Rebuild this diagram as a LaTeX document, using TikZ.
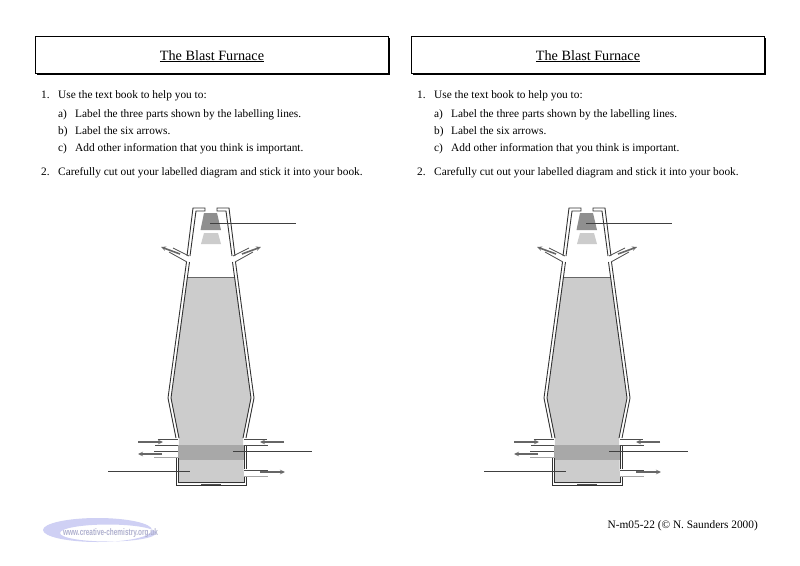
\documentclass[tikz,border=0pt]{standalone}
\usepackage{fontspec}
\setmainfont{Liberation Serif}
\newfontfamily\logofont{Liberation Sans}
\usepackage{xcolor}
\usetikzlibrary{arrows.meta}
\definecolor{chargegrey}{HTML}{CCCCCC}
\definecolor{bandgrey}{HTML}{A8A8A8}
\definecolor{bellgrey}{HTML}{8F8F8F}
\definecolor{flowgrey}{HTML}{666666}
\definecolor{logoblue}{HTML}{CFD0F4}
\tikzset{
  bodytext/.style={anchor=base west,inner sep=0pt,font=\fontsize{11.35}{14}\selectfont},
  wallline/.style={line width=0.9pt,draw=black!80},
  pipeline/.style={line width=0.8pt,draw=black!70},
  flowarrow/.style={-{Stealth[length=5pt,width=4.5pt,fill=white]},line width=1.6pt,draw=flowgrey},
  labelline/.style={line width=0.9pt,draw=black!75}
}
\begin{document}
\begin{tikzpicture}[x=1pt,y=-1pt]
  \useasboundingbox (0,0) rectangle (800,565);
  \fill[white] (0,0) rectangle (800,565);
  \foreach \dx in {0,376}{
  \begin{scope}[xshift=\dx pt]
    % title box
    \fill[black] (37,38) rectangle (390,75);
    \draw[fill=white,line width=0.8pt] (35,36) rectangle (388,73);
    \node[anchor=base,inner sep=0pt,font=\fontsize{14.2}{16}\selectfont] (title\dx) at (212,60) {\underline{The Blast Furnace}};
    % instructions
    \node[bodytext] (one\dx) at (41,98) {1.};
    \node[bodytext] (use\dx) at (58,98) {Use the text book to help you to:};
    \node[bodytext] (a\dx) at (58,117) {a)};
    \node[bodytext] (parts\dx) at (75,117) {Label the three parts shown by the labelling lines.};
    \node[bodytext] (b\dx) at (58,134) {b)};
    \node[bodytext] (arrows\dx) at (75,134) {Label the six arrows.};
    \node[bodytext] (c\dx) at (58,151) {c)};
    \node[bodytext] (other\dx) at (75,151) {Add other information that you think is important.};
    \node[bodytext] (two\dx) at (41,175) {2.};
    \node[bodytext] (cut\dx) at (58,175) {Carefully cut out your labelled diagram and stick it into your book.};
    % charge and hot zone
    \fill[chargegrey] (187,277) -- (235,277) -- (251,398) -- (243,438) -- (244,483) -- (178,483) -- (179,438) -- (171,398) -- cycle;
    \fill[bandgrey] (178,445) rectangle (244,460);
    \draw[line width=0.8pt,draw=black!60] (187,277) -- (235,277);
    % bell
    \fill[bellgrey] (204,213) -- (217,213) -- (221,230) -- (200.5,230) -- cycle;
    \fill[chargegrey] (204,233) -- (218,233) -- (221,244) -- (201,244) -- cycle;
    % outer and inner walls
    \draw[wallline] (190,256) -- (196,211) -- (205,211) -- (205,208) -- (193,208) -- (187,256);
    \draw[wallline] (232,256) -- (226,211) -- (217,211) -- (217,208) -- (229,208) -- (235,256);
    \draw[wallline] (186.5,262) -- (168,398) -- (176,438);
    \draw[wallline] (189.5,262) -- (171,398) -- (179,438);
    \draw[wallline] (235.5,262) -- (254,398) -- (246,438);
    \draw[wallline] (232.5,262) -- (251,398) -- (243,438);
    \draw[wallline] (176,458) -- (176,485) -- (246.5,485) -- (246.5,477);
    \draw[wallline] (178.5,458) -- (178.5,482.5) -- (244.5,482.5) -- (244.5,477);
    \draw[wallline] (246.5,469) -- (246.5,446);
    \draw[wallline] (244.5,469) -- (244.5,446);
    \draw[line width=1.4pt,draw=black!70] (201,484.5) -- (221,484.5);
    % upper vents
    \draw[pipeline] (173,248) -- (189,256);
    \draw[pipeline] (169,252) -- (187,262);
    \draw[pipeline] (249,248) -- (233,256);
    \draw[pipeline] (253,252) -- (235,262);
    \draw[flowarrow] (180,254) -- (161,247);
    \draw[flowarrow] (242,254) -- (261,247);
    % lower pipes
    \draw[pipeline] (158,439) -- (178,439);
    \draw[pipeline] (155,445) -- (178,445);
    \draw[pipeline] (244,439) -- (267,439);
    \draw[pipeline] (244,445) -- (268,445);
    \draw[pipeline] (154,451) -- (178,451);
    \draw[pipeline,draw=black!35] (154,457) -- (178,457);
    \draw[pipeline] (244,470) -- (268,470);
    \draw[pipeline,draw=black!35] (244,476) -- (268,476);
    \draw[flowarrow] (138,442) -- (163,442);
    \draw[flowarrow] (284,442) -- (260,442);
    \draw[flowarrow] (162,454) -- (138,454);
    \draw[flowarrow] (260,472) -- (285,472);
    % labelling lines
    \draw[labelline] (210,223) -- (296,223);
    \draw[labelline] (233,451) -- (312,451);
    \draw[labelline] (108,471) -- (190,471);
  \end{scope}
  }
  % logo
  \fill[logoblue,even odd rule] (97.5,530) ellipse [x radius=54.5,y radius=12] (108,533) ellipse [x radius=48,y radius=8.5];
  \node[anchor=base west,inner sep=0pt,xscale=0.68,text=logoblue!85!black,font=\logofont\bfseries\fontsize{9.5}{11}\selectfont] (logo) at (63,535) {www.creative-chemistry.org.uk};
  % footer
  \node[anchor=base east,inner sep=0pt,font=\fontsize{11.35}{14}\selectfont] (footer) at (758,528) {N-m05-22 (© N. Saunders 2000)};
\end{tikzpicture}
\end{document}
